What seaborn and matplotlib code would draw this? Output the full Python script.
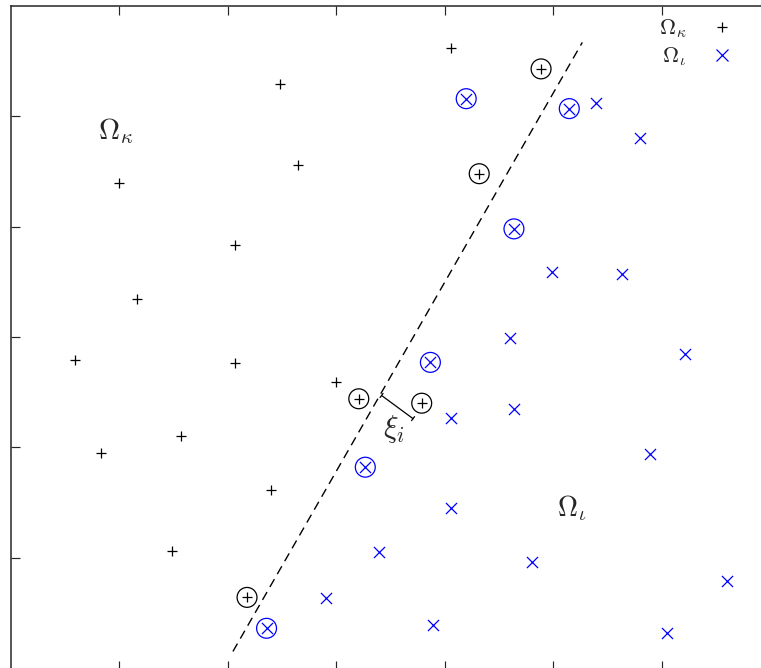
import numpy as np
import pandas as pd
import matplotlib
matplotlib.use("Agg")
import matplotlib.pyplot as plt
from matplotlib.lines import Line2D
import seaborn as sns

# Class kappa (plus markers)
kappa_x = [4.06, 2.48, 2.65, 1.00, 2.07, 1.17, 0.59, 2.07, 3.00, 1.57, 0.83, 2.40, 1.49]
kappa_y = [5.62, 5.29, 4.56, 4.40, 3.83, 3.34, 2.79, 2.76, 2.59, 2.10, 1.95, 1.61, 1.06]

# Class kappa support vectors (circled plus)
kappa_sv_x = [4.89, 4.32, 3.21, 2.18, 3.79]
kappa_sv_y = [5.43, 4.48, 2.44, 0.64, 2.40]

# Class iota (cross markers)
iota_x = [5.40, 5.80, 4.99, 5.64, 4.60, 6.22, 4.64, 4.06, 5.89, 4.06, 4.81, 6.60, 3.89, 6.05, 2.91, 3.40]
iota_y = [5.12, 4.80, 3.59, 3.57, 2.99, 2.85, 2.35, 2.27, 1.94, 1.45, 0.96, 0.79, 0.39, 0.32, 0.63, 1.05]

# Class iota support vectors (circled cross)
iota_sv_x = [4.20, 5.15, 4.64, 3.27, 2.36, 3.87]
iota_sv_y = [5.16, 5.07, 3.98, 1.82, 0.36, 2.77]

# Separating hyperplane end points
plane_x = [2.05, 5.27]
plane_y = [0.15, 5.67]

# Slack distance xi_i (from hyperplane to the point)
slack_start = (3.42, 2.47)
slack_end = (3.71, 2.26)

labels = {"kappa": r"$\Omega_\kappa$", "iota": r"$\Omega_\iota$"}

sns.set_style("ticks")
plt.rcParams["mathtext.fontset"] = "cm"
plt.rcParams["font.family"] = ["DejaVu Sans"]

fig = plt.figure(figsize=(7.61, 6.68), dpi=100)
ax = fig.add_axes([10.5 / 761, -1.5 / 668, 759.5 / 761, 663.5 / 668])

kappa = pd.DataFrame({"x": kappa_x, "y": kappa_y})
iota = pd.DataFrame({"x": iota_x, "y": iota_y})
kappa_sv = pd.DataFrame({"x": kappa_sv_x, "y": kappa_sv_y})
iota_sv = pd.DataFrame({"x": iota_sv_x, "y": iota_sv_y})

lw = 0.9
sns.lineplot(x=plane_x, y=plane_y, ax=ax, color="black", lw=1.0,
             linestyle=(0, (6.5, 4.2)), sort=False, estimator=None)

# circles around support vectors
ax.scatter(kappa_sv["x"], kappa_sv["y"], s=205, marker="o", facecolors="none",
           edgecolors="black", linewidths=lw, zorder=3)
ax.scatter(iota_sv["x"], iota_sv["y"], s=205, marker="o", facecolors="none",
           edgecolors="blue", linewidths=lw, zorder=3)

sns.scatterplot(data=pd.concat([kappa, kappa_sv]), x="x", y="y", ax=ax,
                marker="+", color="black", s=55, linewidth=lw, zorder=4)
sns.scatterplot(data=pd.concat([iota, iota_sv]), x="x", y="y", ax=ax,
                marker="x", color="blue", s=64, linewidth=lw, zorder=4)

ax.annotate("", xy=slack_end, xytext=slack_start,
            arrowprops=dict(arrowstyle="|-|,widthA=0.18,widthB=0.18",
                            lw=lw, color="black", shrinkA=0, shrinkB=0))
ax.text(3.535, 2.17, r"$\xi_i$", fontsize=22, ha="center", va="center")
ax.text(0.97, 4.87, labels["kappa"], fontsize=21, ha="center", va="center")
ax.text(5.175, 1.45, labels["iota"], fontsize=20, ha="center", va="center")

handles = [Line2D([], [], marker="+", ls="none", color="black", ms=7.4, mew=lw),
           Line2D([], [], marker="x", ls="none", color="blue", ms=8.0, mew=lw)]
ax.legend(handles, [labels["kappa"], labels["iota"]], markerfirst=False,
          frameon=False, fontsize=16, loc="upper right",
          bbox_to_anchor=(753 / 761, 1 - 4 / 668), bbox_transform=fig.transFigure,
          handlelength=1.6, handletextpad=0.8, labelspacing=0.25, borderpad=0.1)

ax.set_xlim(0, 7)
ax.set_ylim(-1.5 / 110.33, 6)
ax.set_xticks([1, 2, 3, 4, 5, 6])
ax.set_yticks([1, 2, 3, 4, 5])
ax.set_xticklabels([])
ax.set_yticklabels([])
ax.set_xlabel("")
ax.set_ylabel("")
ax.tick_params(direction="in", length=6.5, width=0.85, top=True, right=True,
               bottom=True, left=True)
for sp in ax.spines.values():
    sp.set_visible(True)
    sp.set_linewidth(1.1)

fig.savefig("out.png", dpi=100)
